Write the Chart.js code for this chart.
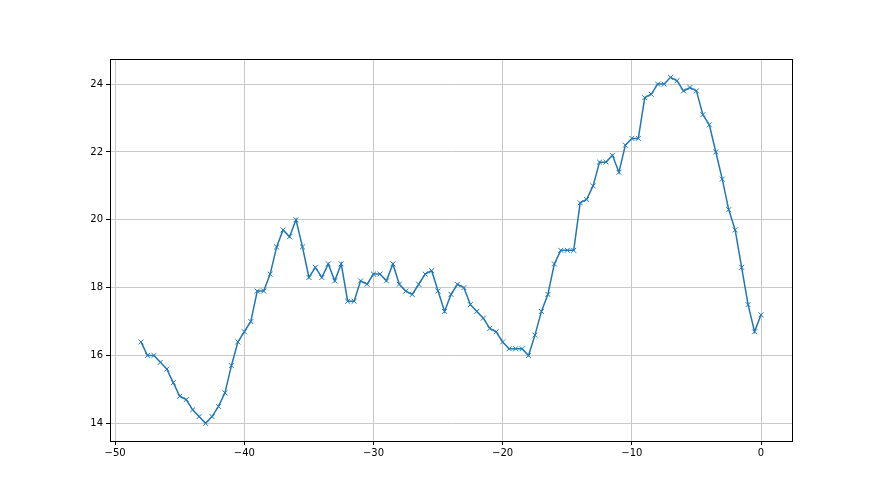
<!DOCTYPE html>
<html>
<head>
<meta charset="utf-8">
<script src="https://cdn.jsdelivr.net/npm/chart.js@4/dist/chart.umd.min.js"></script>
<style>
  html, body { margin: 0; padding: 0; background: #fff; }
  canvas { display: block; }
</style>
</head>
<body>
<canvas id="c" width="880" height="495"></canvas>
<script>
const xValues = [-48,-47.5,-47,-46.5,-46,-45.5,-45,-44.5,-44,-43.5,-43,-42.5,-42,-41.5,-41,-40.5,-40,-39.5,-39,-38.5,-38,-37.5,-37,-36.5,-36,-35.5,-35,-34.5,-34,-33.5,-33,-32.5,-32,-31.5,-31,-30.5,-30,-29.5,-29,-28.5,-28,-27.5,-27,-26.5,-26,-25.5,-25,-24.5,-24,-23.5,-23,-22.5,-22,-21.5,-21,-20.5,-20,-19.5,-19,-18.5,-18,-17.5,-17,-16.5,-16,-15.5,-15,-14.5,-14,-13.5,-13,-12.5,-12,-11.5,-11,-10.5,-10,-9.5,-9,-8.5,-8,-7.5,-7,-6.5,-6,-5.5,-5,-4.5,-4,-3.5,-3,-2.5,-2,-1.5,-1,-0.5,0];
const yValues = [16.4,16.0,16.0,15.8,15.6,15.2,14.8,14.7,14.4,14.2,14.0,14.2,14.5,14.9,15.7,16.4,16.7,17.0,17.9,17.9,18.4,19.2,19.7,19.5,20.0,19.2,18.3,18.6,18.3,18.7,18.2,18.7,17.6,17.6,18.2,18.1,18.4,18.4,18.2,18.7,18.1,17.9,17.8,18.1,18.4,18.5,17.9,17.3,17.8,18.1,18.0,17.5,17.3,17.1,16.8,16.7,16.4,16.2,16.2,16.2,16.0,16.6,17.3,17.8,18.7,19.1,19.1,19.1,20.5,20.6,21.0,21.7,21.7,21.9,21.4,22.2,22.4,22.4,23.6,23.7,24.0,24.0,24.2,24.1,23.8,23.9,23.8,23.1,22.8,22.0,21.2,20.3,19.7,18.6,17.5,16.7,17.2];
const xTicks = [-50,-40,-30,-20,-10,0];
const xTickLabels = ['\u221250','\u221240','\u221230','\u221220','\u221210','0'];
const yTicks = [14,16,18,20,22,24];
const yTickLabels = ['14','16','18','20','22','24'];

const points = xValues.map((x, i) => ({ x: x, y: yValues[i] }));

const framePlugin = {
  id: 'frame',
  afterDraw(chart) {
    const a = chart.chartArea;
    const ctx = chart.ctx;
    ctx.save();
    ctx.strokeStyle = '#000';
    ctx.lineWidth = 1;
    ctx.strokeRect(Math.round(a.left) + 0.5, Math.round(a.top) + 0.5,
                   Math.round(a.right - a.left), Math.round(a.bottom - a.top));
    ctx.restore();
  }
};

new Chart(document.getElementById('c'), {
  type: 'line',
  data: {
    datasets: [{
      data: points,
      borderColor: '#1f77b4',
      backgroundColor: '#1f77b4',
      borderWidth: 1.5,
      tension: 0,
      pointStyle: 'crossRot',
      pointRadius: 3.5,
      pointHoverRadius: 3.5,
      pointBorderWidth: 1,
      pointBorderColor: '#1f77b4',
      fill: false
    }]
  },
  options: {
    responsive: false,
    animation: false,
    devicePixelRatio: 1,
    layout: { padding: { left: 0, top: 59, right: 88, bottom: 0 } },
    plugins: { legend: { display: false }, tooltip: { enabled: false } },
    scales: {
      x: {
        type: 'linear',
        min: -50.4,
        max: 2.4,
        afterBuildTicks: s => { s.ticks = xTicks.map(v => ({ value: v })); },
        afterFit: s => { s.height = 54; },
        ticks: {
          autoSkip: false,
          maxRotation: 0,
          padding: 2,
          color: '#000',
          font: { family: 'DejaVu Sans', size: 10 },
          callback: (v) => xTickLabels[xTicks.indexOf(v)]
        },
        grid: { color: '#c8c8c8', lineWidth: 1, tickColor: '#000', tickLength: 4, drawTicks: true },
        border: { display: true, color: '#000', width: 1 }
      },
      y: {
        type: 'linear',
        min: 13.48,
        max: 24.74,
        afterBuildTicks: s => { s.ticks = yTicks.map(v => ({ value: v })); },
        afterFit: s => { s.width = 110; },
        ticks: {
          autoSkip: false,
          padding: 3,
          color: '#000',
          font: { family: 'DejaVu Sans', size: 10 },
          callback: (v) => yTickLabels[yTicks.indexOf(v)]
        },
        grid: { color: '#c8c8c8', lineWidth: 1, tickColor: '#000', tickLength: 4, drawTicks: true },
        border: { display: true, color: '#000', width: 1 }
      }
    }
  },
  plugins: [framePlugin]
});
</script>
</body>
</html>
